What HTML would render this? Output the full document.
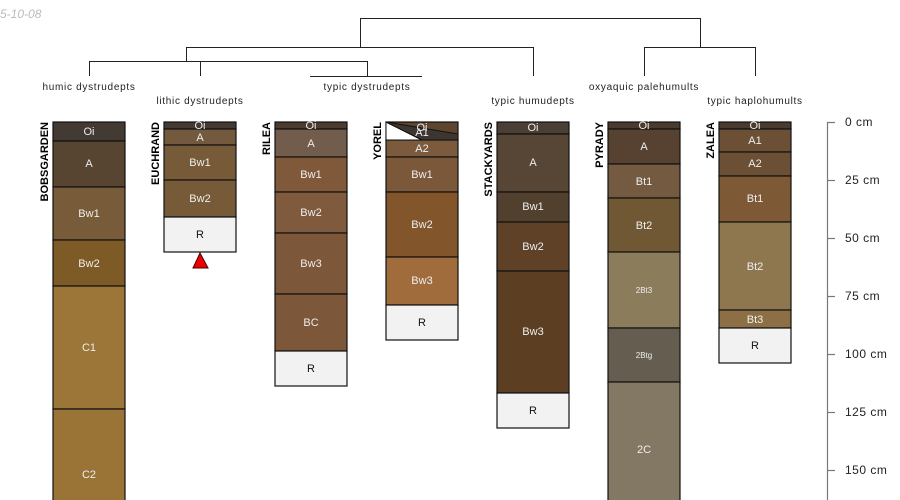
<!DOCTYPE html>
<html><head><meta charset="utf-8"><style>
html,body{margin:0;padding:0;background:#fff;}
svg{display:block;font-family:"Liberation Sans",sans-serif;}
.h rect{stroke:#111;stroke-width:1.2}
.t{fill:#eee;font-size:11px;text-anchor:middle;dominant-baseline:middle}
.s{fill:#eee;font-size:8px;text-anchor:middle;dominant-baseline:middle}
.k{fill:#111;font-size:11px;text-anchor:middle;dominant-baseline:middle}
.n{font-size:11px;font-weight:bold;fill:#000;text-anchor:end}
.l{font-size:10px;fill:#222;text-anchor:middle;letter-spacing:0.7px}
.ax{font-size:12px;fill:#222;letter-spacing:0.5px}
</style></head><body>
<svg width="900" height="500" viewBox="0 0 900 500">
<text x="0" y="18" font-size="12" font-style="italic" fill="#bbb">5-10-08</text>
<g stroke="#222" stroke-width="1" fill="none">
<path d="M360.5 47V18.5H700.5V47"/>
<path d="M186.5 61V47.5H533.5V76"/>
<path d="M89.5 76V61.5H367.5V76"/>
<path d="M200.5 76V61.5"/>
<path d="M310 76.5H422"/>
<path d="M644.5 76V47.5H755.5V76"/>
</g>
<text class="l" x="89" y="90">humic dystrudepts</text>
<text class="l" x="200" y="104">lithic dystrudepts</text>
<text class="l" x="367" y="90">typic dystrudepts</text>
<text class="l" x="533" y="104">typic humudepts</text>
<text class="l" x="644" y="90">oxyaquic palehumults</text>
<text class="l" x="755" y="104">typic haplohumults</text>

<g class="h">
<rect x="53" y="122" width="72" height="19" fill="#433a33"/>
<rect x="53" y="141" width="72" height="46" fill="#574531"/>
<rect x="53" y="187" width="72" height="53" fill="#785c39"/>
<rect x="53" y="240" width="72" height="46" fill="#7d5a26"/>
<rect x="53" y="286" width="72" height="123" fill="#9c7538"/>
<rect x="53" y="409" width="72" height="95" fill="#9a7437"/>
<rect x="164" y="122" width="72" height="7" fill="#433a33"/>
<rect x="164" y="129" width="72" height="16" fill="#735a3e"/>
<rect x="164" y="145" width="72" height="35" fill="#775a37"/>
<rect x="164" y="180" width="72" height="37" fill="#775a37"/>
<rect x="164" y="217" width="72" height="35" fill="#f2f2f2"/>
<rect x="275" y="122" width="72" height="7" fill="#4c3c30"/>
<rect x="275" y="129" width="72" height="28" fill="#725c4c"/>
<rect x="275" y="157" width="72" height="35" fill="#80593a"/>
<rect x="275" y="192" width="72" height="41" fill="#7f5a3c"/>
<rect x="275" y="233" width="72" height="61" fill="#7c573a"/>
<rect x="275" y="294" width="72" height="57" fill="#7c573a"/>
<rect x="275" y="351" width="72" height="35" fill="#f2f2f2"/>
<rect x="386" y="122" width="72" height="18" fill="#5e4530"/>
<rect x="386" y="140" width="72" height="17" fill="#7b5a3d"/>
<rect x="386" y="157" width="72" height="35" fill="#7c583a"/>
<rect x="386" y="192" width="72" height="65" fill="#83552b"/>
<rect x="386" y="257" width="72" height="48" fill="#a06c3c"/>
<rect x="386" y="305" width="72" height="35" fill="#f2f2f2"/>
<rect x="497" y="122" width="72" height="12" fill="#4b3e35"/>
<rect x="497" y="134" width="72" height="58" fill="#574535"/>
<rect x="497" y="192" width="72" height="30" fill="#52402e"/>
<rect x="497" y="222" width="72" height="49" fill="#5e4126"/>
<rect x="497" y="271" width="72" height="122" fill="#5c3f22"/>
<rect x="497" y="393" width="72" height="35" fill="#f2f2f2"/>
<rect x="608" y="122" width="72" height="7" fill="#4a3b2f"/>
<rect x="608" y="129" width="72" height="35" fill="#574130"/>
<rect x="608" y="164" width="72" height="34" fill="#735a40"/>
<rect x="608" y="198" width="72" height="54" fill="#705834"/>
<rect x="608" y="252" width="72" height="76" fill="#8b7d5b"/>
<rect x="608" y="328" width="72" height="54" fill="#655e50"/>
<rect x="608" y="382" width="72" height="122" fill="#837863"/>
<rect x="719" y="122" width="72" height="7" fill="#4a3b2f"/>
<rect x="719" y="129" width="72" height="23" fill="#6b5035"/>
<rect x="719" y="152" width="72" height="24" fill="#6b5035"/>
<rect x="719" y="176" width="72" height="46" fill="#7d5935"/>
<rect x="719" y="222" width="72" height="88" fill="#8e774e"/>
<rect x="719" y="310" width="72" height="18" fill="#8c6f45"/>
<rect x="719" y="328" width="72" height="35" fill="#f2f2f2"/>
</g>
<polygon points="386,122 386,140 422,140" fill="#fff" stroke="#111" stroke-width="1"/>
<polygon points="386,122 458,134 458,140 422,140" fill="#3d3530" stroke="#111" stroke-width="1"/>
<polygon points="200,253 193,268 208,268" fill="#e00" stroke="#400" stroke-width="1"/>

<g>
<text class="t" x="89" y="132">Oi</text><text class="t" x="89" y="164">A</text><text class="t" x="89" y="214">Bw1</text><text class="t" x="89" y="264">Bw2</text><text class="t" x="89" y="348">C1</text><text class="t" x="89" y="475">C2</text>
<text class="t" x="200" y="126">Oi</text><text class="t" x="200" y="138">A</text><text class="t" x="200" y="163">Bw1</text><text class="t" x="200" y="199">Bw2</text><text class="k" x="200" y="235">R</text>
<text class="t" x="311" y="126">Oi</text><text class="t" x="311" y="144">A</text><text class="t" x="311" y="175">Bw1</text><text class="t" x="311" y="213">Bw2</text><text class="t" x="311" y="264">Bw3</text><text class="t" x="311" y="323">BC</text><text class="k" x="311" y="369">R</text>
<text class="t" x="422" y="128">Oi</text><text class="t" x="422" y="133">A1</text><text class="t" x="422" y="149">A2</text><text class="t" x="422" y="175">Bw1</text><text class="t" x="422" y="225">Bw2</text><text class="t" x="422" y="281">Bw3</text><text class="k" x="422" y="323">R</text>
<text class="t" x="533" y="128">Oi</text><text class="t" x="533" y="163">A</text><text class="t" x="533" y="207">Bw1</text><text class="t" x="533" y="247">Bw2</text><text class="t" x="533" y="332">Bw3</text><text class="k" x="533" y="411">R</text>
<text class="t" x="644" y="126">Oi</text><text class="t" x="644" y="147">A</text><text class="t" x="644" y="182">Bt1</text><text class="t" x="644" y="226">Bt2</text><text class="s" x="644" y="291">2Bt3</text><text class="s" x="644" y="356">2Btg</text><text class="t" x="644" y="450">2C</text>
<text class="t" x="755" y="126">Oi</text><text class="t" x="755" y="141">A1</text><text class="t" x="755" y="164">A2</text><text class="t" x="755" y="199">Bt1</text><text class="t" x="755" y="267">Bt2</text><text class="t" x="755" y="320">Bt3</text><text class="k" x="755" y="346">R</text>
</g>

<g>
<text class="n" transform="translate(48,122) rotate(-90)">BOBSGARDEN</text>
<text class="n" transform="translate(159,122) rotate(-90)">EUCHRAND</text>
<text class="n" transform="translate(270,122) rotate(-90)">RILEA</text>
<text class="n" transform="translate(381,122) rotate(-90)">YOREL</text>
<text class="n" transform="translate(492,122) rotate(-90)">STACKYARDS</text>
<text class="n" transform="translate(603,122) rotate(-90)">PYRADY</text>
<text class="n" transform="translate(714,122) rotate(-90)">ZALEA</text>
</g>

<g stroke="#777" stroke-width="1.2">
<line x1="827.5" y1="122" x2="827.5" y2="500"/>
<line x1="827" y1="122.5" x2="835" y2="122.5"/>
<line x1="827" y1="180.5" x2="835" y2="180.5"/>
<line x1="827" y1="238.5" x2="835" y2="238.5"/>
<line x1="827" y1="296.5" x2="835" y2="296.5"/>
<line x1="827" y1="354.5" x2="835" y2="354.5"/>
<line x1="827" y1="412.5" x2="835" y2="412.5"/>
<line x1="827" y1="470.5" x2="835" y2="470.5"/>
</g>
<g class="ax">
<text x="845" y="126">0 cm</text>
<text x="845" y="184">25 cm</text>
<text x="845" y="242">50 cm</text>
<text x="845" y="300">75 cm</text>
<text x="845" y="358">100 cm</text>
<text x="845" y="416">125 cm</text>
<text x="845" y="474">150 cm</text>
</g>
</svg>
</body></html>
